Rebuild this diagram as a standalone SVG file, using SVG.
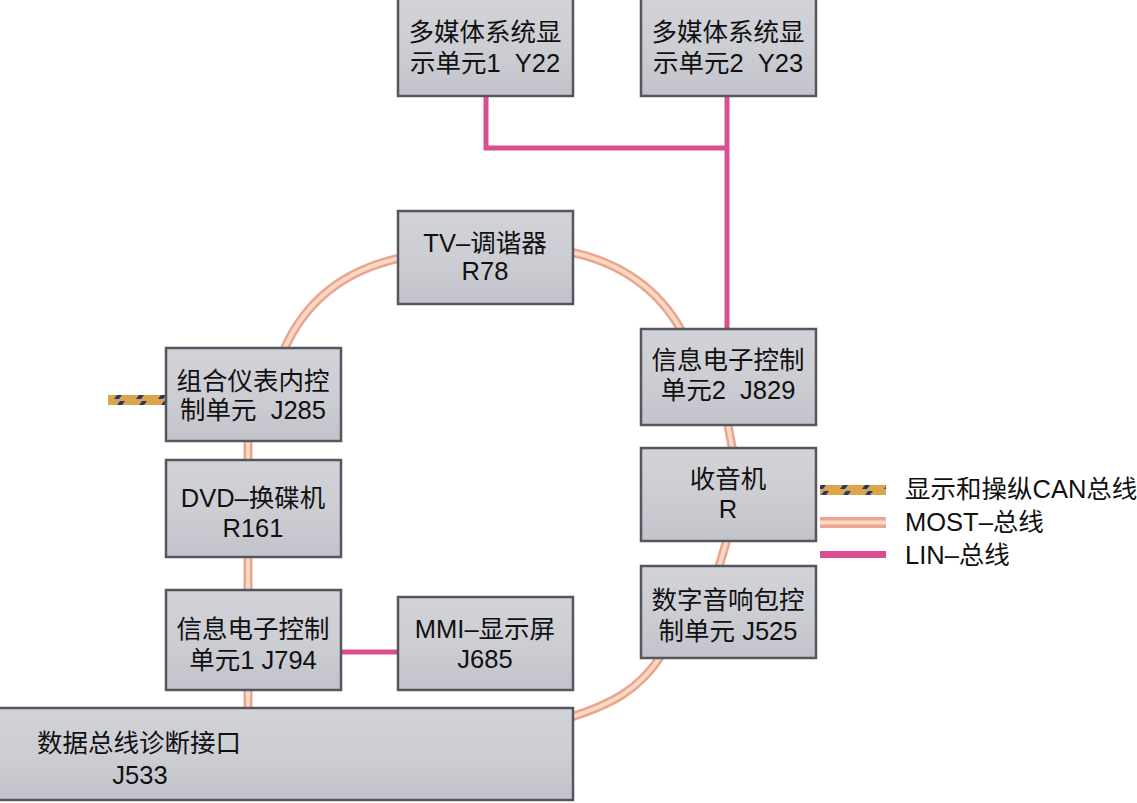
<svg xmlns="http://www.w3.org/2000/svg" width="1137" height="803" viewBox="0 0 1137 803">
<defs>
<linearGradient id="boxg" x1="0" y1="0" x2="0" y2="1">
<stop offset="0" stop-color="#d2d2d9"/>
<stop offset="0.5" stop-color="#cdcdd4"/>
<stop offset="1" stop-color="#c3c3cb"/>
</linearGradient>
<pattern id="canp" x="0" y="0" width="22" height="10" patternUnits="userSpaceOnUse">
<rect width="22" height="10" fill="#dca54c"/>
<path d="M4 9 L10 1 L15 1 L9 9 Z" fill="#243a6e"/>
</pattern>
<style>
.box{fill:url(#boxg);stroke:#56575e;stroke-width:2.5}
.t{font-family:"Liberation Sans","Noto Sans CJK SC",sans-serif;font-size:25.5px;fill:#111;text-anchor:middle;white-space:pre}
.mo{fill:none;stroke:#eaa58f;stroke-width:9}
.mi{fill:none;stroke:#fcd8c5;stroke-width:4}
.lin{fill:none;stroke:#d84f91;stroke-width:5}
</style>
</defs>
<rect width="1137" height="803" fill="#ffffff"/>
<g id="connectors">
<g id="most">
<path class="mo" d="M248 436 L248 712 M283 352 C305 300 345 270 400 258 M570 252 C620 262 660 290 682 332 M662 654 C640 690 610 705 568 718 M727 420 L733 452 M728 536 L718 570"/>
<path class="mi" d="M248 436 L248 712 M283 352 C305 300 345 270 400 258 M570 252 C620 262 660 290 682 332 M662 654 C640 690 610 705 568 718 M727 420 L733 452 M728 536 L718 570"/>
</g>
<path id="lin1" class="lin" d="M486 96 L486 148 L727 148 M727 96 L727 331"/>
<path id="lin2" class="lin" d="M340 652 L398 652"/>
<rect id="can1" x="108" y="395" width="60" height="10" fill="url(#canp)"/>
</g>
<g id="n_y22"><rect class="box" x="398" y="-2" width="175" height="98"/><text class="t" x="485" y="41">多媒体系统显</text><text class="t" x="485" y="72">示单元1  Y22</text></g>
<g id="n_y23"><rect class="box" x="641" y="-2" width="175" height="98"/><text class="t" x="728" y="41">多媒体系统显</text><text class="t" x="728" y="72">示单元2  Y23</text></g>
<g id="n_r78"><rect class="box" x="398" y="211" width="175" height="93"/><text class="t" x="485" y="252">TV–调谐器</text><text class="t" x="485" y="280">R78</text></g>
<g id="n_j285"><rect class="box" x="166" y="348" width="175" height="93"/><text class="t" x="253" y="390">组合仪表内控</text><text class="t" x="253" y="419">制单元  J285</text></g>
<g id="n_r161"><rect class="box" x="166" y="460" width="175" height="97"/><text class="t" x="253" y="507">DVD–换碟机</text><text class="t" x="253" y="537">R161</text></g>
<g id="n_j794"><rect class="box" x="166" y="590" width="175" height="100"/><text class="t" x="253" y="638">信息电子控制</text><text class="t" x="253" y="669">单元1 J794</text></g>
<g id="n_j685"><rect class="box" x="398" y="597" width="175" height="93"/><text class="t" x="485" y="638">MMI–显示屏</text><text class="t" x="485" y="668">J685</text></g>
<g id="n_j829"><rect class="box" x="641" y="329" width="175" height="96"/><text class="t" x="728" y="369">信息电子控制</text><text class="t" x="728" y="399">单元2  J829</text></g>
<g id="n_r"><rect class="box" x="641" y="448" width="175" height="93"/><text class="t" x="728" y="488">收音机</text><text class="t" x="728" y="518">R</text></g>
<g id="n_j525"><rect class="box" x="641" y="566" width="175" height="92"/><text class="t" x="728" y="609">数字音响包控</text><text class="t" x="728" y="640">制单元 J525</text></g>
<g id="n_j533"><rect class="box" x="-3" y="708" width="576" height="92"/><text class="t" x="37" y="752" style="text-anchor:start">数据总线诊断接口</text><text class="t" x="140" y="784">J533</text></g>
<g id="legend">
<rect x="820" y="485" width="66" height="10" fill="url(#canp)"/>
<rect x="820" y="517" width="66" height="11" fill="#eaa58f"/>
<rect x="820" y="520.5" width="66" height="4" fill="#fcd8c5"/>
<rect x="820" y="551" width="66" height="7" fill="#d84f91"/>
<text class="t" x="905" y="498" style="text-anchor:start">显示和操纵CAN总线</text>
<text class="t" x="905" y="531" style="text-anchor:start">MOST–总线</text>
<text class="t" x="905" y="564" style="text-anchor:start">LIN–总线</text>
</g>
</svg>
